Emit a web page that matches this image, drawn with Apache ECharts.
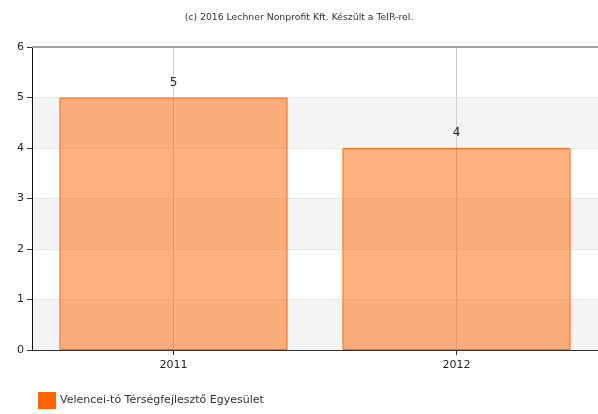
<!DOCTYPE html>
<html><head><meta charset="utf-8">
<script src="https://cdn.jsdelivr.net/npm/echarts@6/dist/echarts.min.js"></script>
<style>html,body{margin:0;padding:0;background:#fff}#c{width:598px;height:414px}</style>
</head><body><div id="c"></div>
<script>
const categories = ['2011', '2012'];
const values = [5, 4];
const seriesName = 'Velencei-tó Térségfejlesztő Egyesület';
const titleText = '(c) 2016 Lechner Nonprofit Kft. Készült a TeIR-rel.';

const FONT = '"DejaVu Sans", Verdana, sans-serif';
const chart = echarts.init(document.getElementById('c'), null, {renderer: 'canvas'});
chart.setOption({
  animation: false,
  textStyle: {fontFamily: FONT},
  title: {text: titleText, left: 'center', top: 8,
    textStyle: {fontSize: 9.3, fontWeight: 'normal', color: '#333', fontFamily: FONT}},
  legend: {left: 33, bottom: 0, itemWidth: 18, itemHeight: 17, itemGap: 4,
    icon: 'rect', data: [{name: seriesName, itemStyle: {color: '#ff6600', opacity: 1, borderWidth: 0}}],
    textStyle: {fontSize: 11, color: '#333', fontFamily: FONT, padding: [0, 0, 0, -1]}},
  grid: {left: 32, right: 0, top: 47, bottom: 64, containLabel: false},
  xAxis: {type: 'category', data: categories,
    axisLine: {show: true, lineStyle: {color: '#333', width: 1}},
    axisTick: {show: true, alignWithLabel: true, length: 5, lineStyle: {color: '#333'}},
    axisLabel: {fontSize: 11, color: '#222', margin: 10, fontFamily: FONT},
    splitLine: {show: false},
  },
  yAxis: {type: 'value', min: 0, max: 6, interval: 1,
    axisLine: {show: true, lineStyle: {color: '#111', width: 1}},
    axisTick: {show: true, length: 5, lineStyle: {color: '#333'}},
    axisLabel: {fontSize: 11, color: '#222', margin: 8, fontFamily: FONT},
    splitLine: {show: true, lineStyle: {color: '#e6e6e6'}},
    splitArea: {show: true, areaStyle: {color: ['#f4f4f4', '#ffffff']}}
  },
  series: [{
    name: seriesName, type: 'bar', data: values, barWidth: '80.6%', z: 3,
    itemStyle: {color: 'rgba(255,102,0,0.5)', borderColor: '#ff6a10', borderWidth: 1},
    label: {show: true, position: 'top', distance: 9, fontSize: 12, color: '#222', fontFamily: FONT},
    markLine: {silent: true, symbol: 'none', label: {show: false}, z: 2,
      data: [
        {xAxis: categories[0], lineStyle: {color: '#cccccc', width: 1, type: 'solid'}},
        {xAxis: categories[1], lineStyle: {color: '#cccccc', width: 1, type: 'solid'}},
        {yAxis: 6, lineStyle: {color: '#a0a0a0', width: 2, type: 'solid'}}
      ]}
  }]
});
</script></body></html>
